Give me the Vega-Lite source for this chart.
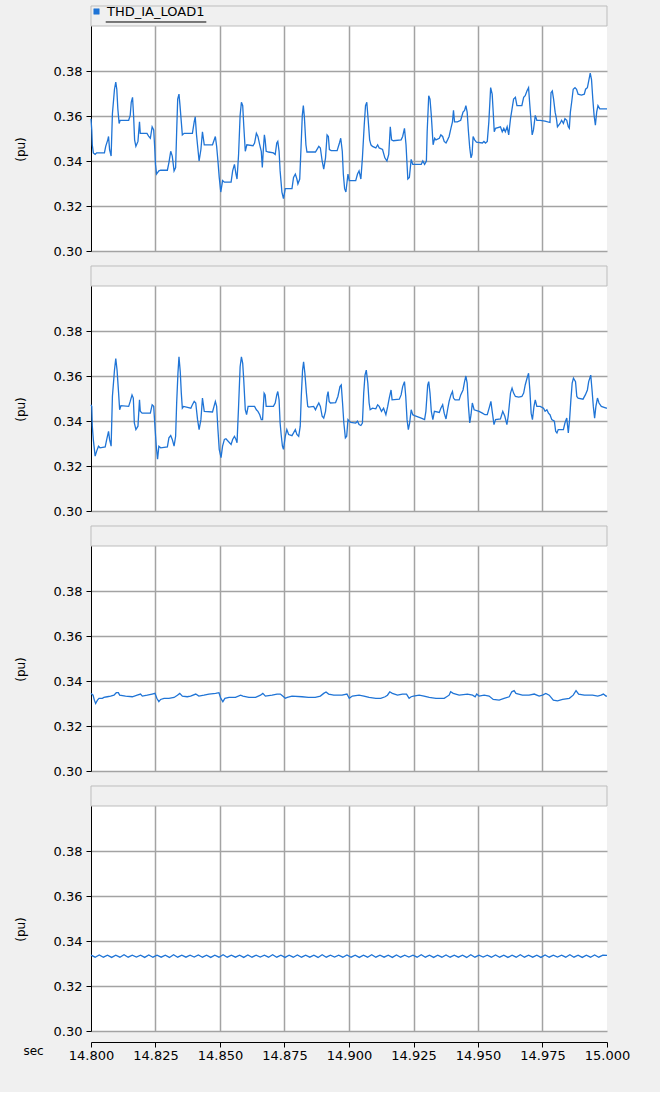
{
"$schema": "https://vega.github.io/schema/vega-lite/v6.json",
"background": "#f0f0f0",
"padding": {"left": 14, "top": 5, "right": 32, "bottom": 30},
"spacing": 15,
"bounds": "flush",
"datasets": {
"p1": [
{"t":14.8000,"v":0.3588},{"t":14.8003,"v":0.3538},{"t":14.8005,"v":0.3472},{"t":14.8009,"v":0.3436},{"t":14.8016,"v":0.3429},{"t":14.8022,"v":0.3436},{"t":14.8052,"v":0.3436},{"t":14.8057,"v":0.3465},{"t":14.8065,"v":0.3494},{"t":14.8068,"v":0.3509},{"t":14.8072,"v":0.3451},{"t":14.8078,"v":0.3422},{"t":14.8083,"v":0.3610},{"t":14.8091,"v":0.3719},{"t":14.8096,"v":0.3751},{"t":14.8100,"v":0.3719},{"t":14.8104,"v":0.3632},{"t":14.8109,"v":0.3567},{"t":14.8113,"v":0.3581},{"t":14.8146,"v":0.3581},{"t":14.8152,"v":0.3603},{"t":14.8156,"v":0.3661},{"t":14.8161,"v":0.3683},{"t":14.8165,"v":0.3603},{"t":14.8169,"v":0.3494},{"t":14.8174,"v":0.3465},{"t":14.8182,"v":0.3487},{"t":14.8188,"v":0.3574},{"t":14.8191,"v":0.3523},{"t":14.8217,"v":0.3523},{"t":14.8224,"v":0.3509},{"t":14.8230,"v":0.3501},{"t":14.8237,"v":0.3552},{"t":14.8243,"v":0.3538},{"t":14.8247,"v":0.3458},{"t":14.8250,"v":0.3385},{"t":14.8254,"v":0.3342},{"t":14.8263,"v":0.3356},{"t":14.8270,"v":0.3359},{"t":14.8296,"v":0.3359},{"t":14.8302,"v":0.3393},{"t":14.8309,"v":0.3443},{"t":14.8315,"v":0.3422},{"t":14.8322,"v":0.3356},{"t":14.8328,"v":0.3371},{"t":14.8332,"v":0.3530},{"t":14.8336,"v":0.3675},{"t":14.8341,"v":0.3697},{"t":14.8345,"v":0.3646},{"t":14.8350,"v":0.3574},{"t":14.8354,"v":0.3516},{"t":14.8361,"v":0.3523},{"t":14.8393,"v":0.3523},{"t":14.8400,"v":0.3574},{"t":14.8404,"v":0.3596},{"t":14.8409,"v":0.3516},{"t":14.8414,"v":0.3458},{"t":14.8419,"v":0.3400},{"t":14.8426,"v":0.3451},{"t":14.8432,"v":0.3530},{"t":14.8439,"v":0.3472},{"t":14.8471,"v":0.3472},{"t":14.8482,"v":0.3509},{"t":14.8487,"v":0.3465},{"t":14.8492,"v":0.3400},{"t":14.8497,"v":0.3327},{"t":14.8503,"v":0.3262},{"t":14.8510,"v":0.3313},{"t":14.8517,"v":0.3306},{"t":14.8543,"v":0.3306},{"t":14.8549,"v":0.3356},{"t":14.8556,"v":0.3385},{"t":14.8562,"v":0.3342},{"t":14.8566,"v":0.3320},{"t":14.8572,"v":0.3429},{"t":14.8578,"v":0.3603},{"t":14.8583,"v":0.3661},{"t":14.8588,"v":0.3646},{"t":14.8592,"v":0.3559},{"t":14.8598,"v":0.3443},{"t":14.8604,"v":0.3472},{"t":14.8628,"v":0.3468},{"t":14.8634,"v":0.3480},{"t":14.8641,"v":0.3523},{"t":14.8647,"v":0.3509},{"t":14.8654,"v":0.3472},{"t":14.8660,"v":0.3443},{"t":14.8664,"v":0.3371},
{"t":14.8668,"v":0.3451},{"t":14.8672,"v":0.3516},{"t":14.8675,"v":0.3494},{"t":14.8679,"v":0.3443},{"t":14.8688,"v":0.3440},{"t":14.8707,"v":0.3436},{"t":14.8714,"v":0.3429},{"t":14.8720,"v":0.3480},{"t":14.8724,"v":0.3487},{"t":14.8729,"v":0.3443},{"t":14.8733,"v":0.3356},{"t":14.8740,"v":0.3262},{"t":14.8746,"v":0.3233},{"t":14.8753,"v":0.3277},{"t":14.8779,"v":0.3277},{"t":14.8785,"v":0.3327},{"t":14.8792,"v":0.3342},{"t":14.8798,"v":0.3320},{"t":14.8802,"v":0.3298},{"t":14.8809,"v":0.3320},{"t":14.8814,"v":0.3458},{"t":14.8819,"v":0.3603},{"t":14.8823,"v":0.3646},{"t":14.8827,"v":0.3596},{"t":14.8833,"v":0.3472},{"t":14.8837,"v":0.3440},{"t":14.8870,"v":0.3440},{"t":14.8883,"v":0.3465},{"t":14.8889,"v":0.3458},{"t":14.8896,"v":0.3400},{"t":14.8902,"v":0.3364},{"t":14.8909,"v":0.3414},{"t":14.8915,"v":0.3516},{"t":14.8920,"v":0.3509},{"t":14.8924,"v":0.3451},{"t":14.8931,"v":0.3446},{"t":14.8954,"v":0.3446},{"t":14.8963,"v":0.3480},{"t":14.8968,"v":0.3501},{"t":14.8974,"v":0.3443},{"t":14.8978,"v":0.3342},{"t":14.8983,"v":0.3277},{"t":14.8988,"v":0.3262},{"t":14.8996,"v":0.3342},{"t":14.9001,"v":0.3313},{"t":14.9026,"v":0.3313},{"t":14.9033,"v":0.3342},{"t":14.9039,"v":0.3356},{"t":14.9046,"v":0.3320},{"t":14.9052,"v":0.3414},{"t":14.9059,"v":0.3559},{"t":14.9064,"v":0.3646},{"t":14.9069,"v":0.3661},{"t":14.9074,"v":0.3588},{"t":14.9080,"v":0.3494},{"t":14.9085,"v":0.3472},{"t":14.9091,"v":0.3465},{"t":14.9104,"v":0.3458},{"t":14.9111,"v":0.3472},{"t":14.9117,"v":0.3458},{"t":14.9130,"v":0.3451},{"t":14.9139,"v":0.3414},{"t":14.9147,"v":0.3400},{"t":14.9154,"v":0.3429},{"t":14.9160,"v":0.3552},{"t":14.9165,"v":0.3494},{"t":14.9172,"v":0.3490},{"t":14.9202,"v":0.3494},{"t":14.9208,"v":0.3509},{"t":14.9215,"v":0.3545},{"t":14.9221,"v":0.3472},{"t":14.9228,"v":0.3320},{"t":14.9234,"v":0.3327},{"t":14.9241,"v":0.3407},{"t":14.9247,"v":0.3385},{"t":14.9280,"v":0.3385},{"t":14.9286,"v":0.3400},{"t":14.9293,"v":0.3385},{"t":14.9300,"v":0.3400},{"t":14.9303,"v":0.3530},{"t":14.9309,"v":0.3690},{"t":14.9314,"v":0.3675},{"t":14.9319,"v":0.3603},{"t":14.9326,"v":0.3472},{"t":14.9332,"v":0.3501},
{"t":14.9337,"v":0.3494},{"t":14.9350,"v":0.3501},{"t":14.9356,"v":0.3516},{"t":14.9363,"v":0.3509},{"t":14.9369,"v":0.3487},{"t":14.9376,"v":0.3480},{"t":14.9382,"v":0.3494},{"t":14.9388,"v":0.3509},{"t":14.9395,"v":0.3545},{"t":14.9401,"v":0.3574},{"t":14.9405,"v":0.3625},{"t":14.9409,"v":0.3574},{"t":14.9420,"v":0.3574},{"t":14.9433,"v":0.3581},{"t":14.9442,"v":0.3617},{"t":14.9448,"v":0.3625},{"t":14.9453,"v":0.3646},{"t":14.9458,"v":0.3617},{"t":14.9463,"v":0.3530},{"t":14.9468,"v":0.3458},{"t":14.9473,"v":0.3414},{"t":14.9477,"v":0.3429},{"t":14.9481,"v":0.3509},{"t":14.9487,"v":0.3494},{"t":14.9494,"v":0.3484},{"t":14.9517,"v":0.3480},{"t":14.9523,"v":0.3487},{"t":14.9529,"v":0.3480},{"t":14.9536,"v":0.3487},{"t":14.9542,"v":0.3574},{"t":14.9549,"v":0.3726},{"t":14.9555,"v":0.3697},{"t":14.9559,"v":0.3617},{"t":14.9563,"v":0.3530},{"t":14.9568,"v":0.3545},{"t":14.9587,"v":0.3552},{"t":14.9594,"v":0.3530},{"t":14.9600,"v":0.3545},{"t":14.9606,"v":0.3530},{"t":14.9613,"v":0.3552},{"t":14.9619,"v":0.3516},{"t":14.9626,"v":0.3588},{"t":14.9632,"v":0.3632},{"t":14.9638,"v":0.3675},{"t":14.9645,"v":0.3683},{"t":14.9651,"v":0.3646},{"t":14.9670,"v":0.3646},{"t":14.9677,"v":0.3683},{"t":14.9683,"v":0.3690},{"t":14.9690,"v":0.3712},{"t":14.9696,"v":0.3726},{"t":14.9700,"v":0.3661},{"t":14.9705,"v":0.3588},{"t":14.9710,"v":0.3516},{"t":14.9715,"v":0.3538},{"t":14.9722,"v":0.3603},{"t":14.9728,"v":0.3581},{"t":14.9741,"v":0.3581},{"t":14.9760,"v":0.3577},{"t":14.9779,"v":0.3571},{"t":14.9783,"v":0.3704},{"t":14.9788,"v":0.3712},{"t":14.9793,"v":0.3675},{"t":14.9799,"v":0.3617},{"t":14.9804,"v":0.3588},{"t":14.9808,"v":0.3552},{"t":14.9818,"v":0.3567},{"t":14.9824,"v":0.3581},{"t":14.9831,"v":0.3567},{"t":14.9837,"v":0.3588},{"t":14.9844,"v":0.3581},{"t":14.9850,"v":0.3552},{"t":14.9854,"v":0.3545},{"t":14.9858,"v":0.3617},{"t":14.9863,"v":0.3661},{"t":14.9869,"v":0.3719},{"t":14.9876,"v":0.3726},{"t":14.9882,"v":0.3719},{"t":14.9888,"v":0.3697},{"t":14.9901,"v":0.3693},{"t":14.9912,"v":0.3697},{"t":14.9917,"v":0.3719},{"t":14.9924,"v":0.3726},{"t":14.9929,"v":0.3755},{"t":14.9935,"v":0.3791},{"t":14.9940,"v":0.3762},{"t":14.9945,"v":0.3675},{"t":14.9950,"v":0.3603},{"t":14.9955,"v":0.3559},{"t":14.9960,"v":0.3617},{"t":14.9965,"v":0.3646},{"t":14.9972,"v":0.3632},{"t":15.0000,"v":0.3632}
],
"p2": [
{"t":14.8000,"v":0.3472},{"t":14.8003,"v":0.3465},{"t":14.8005,"v":0.3377},{"t":14.8009,"v":0.3318},{"t":14.8016,"v":0.3244},{"t":14.8022,"v":0.3266},{"t":14.8029,"v":0.3288},{"t":14.8035,"v":0.3281},{"t":14.8055,"v":0.3285},{"t":14.8061,"v":0.3318},{"t":14.8068,"v":0.3354},{"t":14.8072,"v":0.3318},{"t":14.8078,"v":0.3288},{"t":14.8083,"v":0.3509},{"t":14.8091,"v":0.3626},{"t":14.8096,"v":0.3678},{"t":14.8101,"v":0.3626},{"t":14.8107,"v":0.3524},{"t":14.8111,"v":0.3450},{"t":14.8116,"v":0.3468},{"t":14.8146,"v":0.3465},{"t":14.8152,"v":0.3487},{"t":14.8159,"v":0.3516},{"t":14.8164,"v":0.3502},{"t":14.8168,"v":0.3391},{"t":14.8174,"v":0.3362},{"t":14.8182,"v":0.3377},{"t":14.8188,"v":0.3494},{"t":14.8191,"v":0.3443},{"t":14.8198,"v":0.3435},{"t":14.8230,"v":0.3435},{"t":14.8237,"v":0.3472},{"t":14.8243,"v":0.3465},{"t":14.8247,"v":0.3391},{"t":14.8253,"v":0.3288},{"t":14.8258,"v":0.3230},{"t":14.8263,"v":0.3288},{"t":14.8270,"v":0.3281},{"t":14.8296,"v":0.3285},{"t":14.8302,"v":0.3325},{"t":14.8309,"v":0.3335},{"t":14.8315,"v":0.3318},{"t":14.8322,"v":0.3288},{"t":14.8328,"v":0.3332},{"t":14.8332,"v":0.3479},{"t":14.8337,"v":0.3612},{"t":14.8341,"v":0.3685},{"t":14.8346,"v":0.3619},{"t":14.8350,"v":0.3524},{"t":14.8354,"v":0.3457},{"t":14.8359,"v":0.3465},{"t":14.8387,"v":0.3457},{"t":14.8393,"v":0.3472},{"t":14.8400,"v":0.3487},{"t":14.8406,"v":0.3480},{"t":14.8413,"v":0.3406},{"t":14.8419,"v":0.3362},{"t":14.8426,"v":0.3406},{"t":14.8432,"v":0.3502},{"t":14.8439,"v":0.3443},{"t":14.8471,"v":0.3440},{"t":14.8482,"v":0.3487},{"t":14.8487,"v":0.3465},{"t":14.8492,"v":0.3362},{"t":14.8497,"v":0.3274},{"t":14.8504,"v":0.3237},{"t":14.8510,"v":0.3288},{"t":14.8517,"v":0.3318},{"t":14.8523,"v":0.3321},{"t":14.8543,"v":0.3296},{"t":14.8549,"v":0.3318},{"t":14.8556,"v":0.3332},{"t":14.8562,"v":0.3318},{"t":14.8566,"v":0.3303},{"t":14.8572,"v":0.3465},{"t":14.8578,"v":0.3641},{"t":14.8583,"v":0.3685},{"t":14.8588,"v":0.3656},{"t":14.8592,"v":0.3582},{"t":14.8598,"v":0.3450},{"t":14.8603,"v":0.3428},{"t":14.8609,"v":0.3465},{"t":14.8634,"v":0.3465},{"t":14.8641,"v":0.3450},{"t":14.8647,"v":0.3443},{"t":14.8654,"v":0.3428},{"t":14.8660,"v":0.3406},
{"t":14.8665,"v":0.3406},{"t":14.8671,"v":0.3524},{"t":14.8675,"v":0.3516},{"t":14.8679,"v":0.3465},{"t":14.8707,"v":0.3465},{"t":14.8714,"v":0.3480},{"t":14.8720,"v":0.3516},{"t":14.8724,"v":0.3531},{"t":14.8729,"v":0.3494},{"t":14.8733,"v":0.3391},{"t":14.8737,"v":0.3340},{"t":14.8742,"v":0.3288},{"t":14.8746,"v":0.3274},{"t":14.8753,"v":0.3332},{"t":14.8759,"v":0.3362},{"t":14.8766,"v":0.3340},{"t":14.8779,"v":0.3335},{"t":14.8785,"v":0.3347},{"t":14.8792,"v":0.3362},{"t":14.8798,"v":0.3340},{"t":14.8805,"v":0.3332},{"t":14.8811,"v":0.3377},{"t":14.8815,"v":0.3509},{"t":14.8820,"v":0.3626},{"t":14.8824,"v":0.3663},{"t":14.8829,"v":0.3612},{"t":14.8835,"v":0.3524},{"t":14.8840,"v":0.3465},{"t":14.8844,"v":0.3462},{"t":14.8863,"v":0.3465},{"t":14.8870,"v":0.3450},{"t":14.8876,"v":0.3465},{"t":14.8883,"v":0.3480},{"t":14.8889,"v":0.3465},{"t":14.8896,"v":0.3421},{"t":14.8902,"v":0.3413},{"t":14.8909,"v":0.3443},{"t":14.8915,"v":0.3509},{"t":14.8919,"v":0.3531},{"t":14.8923,"v":0.3487},{"t":14.8928,"v":0.3480},{"t":14.8948,"v":0.3482},{"t":14.8957,"v":0.3509},{"t":14.8965,"v":0.3553},{"t":14.8970,"v":0.3560},{"t":14.8975,"v":0.3480},{"t":14.8980,"v":0.3391},{"t":14.8986,"v":0.3325},{"t":14.8991,"v":0.3332},{"t":14.8996,"v":0.3406},{"t":14.9001,"v":0.3399},{"t":14.9007,"v":0.3394},{"t":14.9026,"v":0.3391},{"t":14.9033,"v":0.3399},{"t":14.9039,"v":0.3384},{"t":14.9046,"v":0.3380},{"t":14.9052,"v":0.3391},{"t":14.9057,"v":0.3524},{"t":14.9062,"v":0.3604},{"t":14.9067,"v":0.3626},{"t":14.9073,"v":0.3568},{"t":14.9078,"v":0.3480},{"t":14.9082,"v":0.3450},{"t":14.9091,"v":0.3457},{"t":14.9104,"v":0.3454},{"t":14.9111,"v":0.3472},{"t":14.9117,"v":0.3465},{"t":14.9126,"v":0.3443},{"t":14.9134,"v":0.3457},{"t":14.9143,"v":0.3428},{"t":14.9150,"v":0.3465},{"t":14.9156,"v":0.3502},{"t":14.9163,"v":0.3538},{"t":14.9167,"v":0.3494},{"t":14.9195,"v":0.3497},{"t":14.9202,"v":0.3516},{"t":14.9208,"v":0.3553},{"t":14.9215,"v":0.3575},{"t":14.9220,"v":0.3509},{"t":14.9225,"v":0.3406},{"t":14.9230,"v":0.3362},{"t":14.9235,"v":0.3391},{"t":14.9241,"v":0.3450},{"t":14.9247,"v":0.3428},{"t":14.9254,"v":0.3424},{"t":14.9280,"v":0.3413},{"t":14.9293,"v":0.3406},{"t":14.9298,"v":0.3443},{"t":14.9305,"v":0.3560},{"t":14.9309,"v":0.3575},{"t":14.9314,"v":0.3524},{"t":14.9319,"v":0.3443},{"t":14.9325,"v":0.3406},{"t":14.9331,"v":0.3443},
{"t":14.9350,"v":0.3438},{"t":14.9356,"v":0.3457},{"t":14.9363,"v":0.3472},{"t":14.9369,"v":0.3435},{"t":14.9376,"v":0.3409},{"t":14.9382,"v":0.3450},{"t":14.9388,"v":0.3487},{"t":14.9395,"v":0.3516},{"t":14.9401,"v":0.3531},{"t":14.9405,"v":0.3502},{"t":14.9411,"v":0.3494},{"t":14.9427,"v":0.3494},{"t":14.9433,"v":0.3516},{"t":14.9442,"v":0.3538},{"t":14.9448,"v":0.3575},{"t":14.9453,"v":0.3600},{"t":14.9458,"v":0.3568},{"t":14.9463,"v":0.3465},{"t":14.9468,"v":0.3391},{"t":14.9473,"v":0.3428},{"t":14.9478,"v":0.3480},{"t":14.9485,"v":0.3450},{"t":14.9504,"v":0.3443},{"t":14.9517,"v":0.3435},{"t":14.9527,"v":0.3428},{"t":14.9536,"v":0.3428},{"t":14.9545,"v":0.3465},{"t":14.9550,"v":0.3487},{"t":14.9555,"v":0.3443},{"t":14.9562,"v":0.3384},{"t":14.9568,"v":0.3406},{"t":14.9587,"v":0.3409},{"t":14.9596,"v":0.3443},{"t":14.9604,"v":0.3421},{"t":14.9612,"v":0.3384},{"t":14.9617,"v":0.3421},{"t":14.9626,"v":0.3524},{"t":14.9632,"v":0.3546},{"t":14.9638,"v":0.3524},{"t":14.9645,"v":0.3509},{"t":14.9658,"v":0.3506},{"t":14.9670,"v":0.3509},{"t":14.9677,"v":0.3524},{"t":14.9683,"v":0.3560},{"t":14.9690,"v":0.3590},{"t":14.9696,"v":0.3612},{"t":14.9701,"v":0.3538},{"t":14.9706,"v":0.3435},{"t":14.9711,"v":0.3406},{"t":14.9717,"v":0.3465},{"t":14.9722,"v":0.3494},{"t":14.9728,"v":0.3465},{"t":14.9741,"v":0.3465},{"t":14.9754,"v":0.3457},{"t":14.9760,"v":0.3443},{"t":14.9767,"v":0.3450},{"t":14.9773,"v":0.3435},{"t":14.9779,"v":0.3428},{"t":14.9786,"v":0.3406},{"t":14.9796,"v":0.3399},{"t":14.9801,"v":0.3354},{"t":14.9806,"v":0.3347},{"t":14.9811,"v":0.3362},{"t":14.9831,"v":0.3362},{"t":14.9837,"v":0.3391},{"t":14.9844,"v":0.3413},{"t":14.9850,"v":0.3347},{"t":14.9855,"v":0.3406},{"t":14.9860,"v":0.3494},{"t":14.9865,"v":0.3568},{"t":14.9870,"v":0.3590},{"t":14.9878,"v":0.3575},{"t":14.9883,"v":0.3509},{"t":14.9888,"v":0.3502},{"t":14.9907,"v":0.3497},{"t":14.9916,"v":0.3516},{"t":14.9924,"v":0.3538},{"t":14.9929,"v":0.3575},{"t":14.9937,"v":0.3604},{"t":14.9942,"v":0.3538},{"t":14.9947,"v":0.3465},{"t":14.9952,"v":0.3413},{"t":14.9957,"v":0.3465},{"t":14.9963,"v":0.3502},{"t":14.9969,"v":0.3480},{"t":14.9978,"v":0.3465},{"t":14.9997,"v":0.3457},{"t":15.0000,"v":0.3457}
],
"p3": [
{"t":14.8000,"v":0.3345},{"t":14.8008,"v":0.3337},{"t":14.8013,"v":0.3315},{"t":14.8018,"v":0.3300},{"t":14.8025,"v":0.3315},{"t":14.8031,"v":0.3323},{"t":14.8044,"v":0.3323},{"t":14.8050,"v":0.3327},{"t":14.8063,"v":0.3330},{"t":14.8076,"v":0.3333},{"t":14.8089,"v":0.3337},{"t":14.8098,"v":0.3348},{"t":14.8106,"v":0.3348},{"t":14.8111,"v":0.3337},{"t":14.8134,"v":0.3333},{"t":14.8160,"v":0.3330},{"t":14.8179,"v":0.3337},{"t":14.8192,"v":0.3342},{"t":14.8199,"v":0.3333},{"t":14.8218,"v":0.3337},{"t":14.8237,"v":0.3342},{"t":14.8248,"v":0.3345},{"t":14.8255,"v":0.3323},{"t":14.8263,"v":0.3308},{"t":14.8270,"v":0.3318},{"t":14.8283,"v":0.3323},{"t":14.8302,"v":0.3323},{"t":14.8322,"v":0.3327},{"t":14.8335,"v":0.3337},{"t":14.8344,"v":0.3345},{"t":14.8354,"v":0.3333},{"t":14.8373,"v":0.3330},{"t":14.8386,"v":0.3333},{"t":14.8406,"v":0.3342},{"t":14.8418,"v":0.3333},{"t":14.8438,"v":0.3337},{"t":14.8457,"v":0.3342},{"t":14.8483,"v":0.3345},{"t":14.8496,"v":0.3348},{"t":14.8503,"v":0.3323},{"t":14.8511,"v":0.3308},{"t":14.8519,"v":0.3323},{"t":14.8535,"v":0.3327},{"t":14.8560,"v":0.3327},{"t":14.8580,"v":0.3337},{"t":14.8589,"v":0.3333},{"t":14.8612,"v":0.3327},{"t":14.8638,"v":0.3327},{"t":14.8657,"v":0.3337},{"t":14.8666,"v":0.3345},{"t":14.8676,"v":0.3333},{"t":14.8702,"v":0.3337},{"t":14.8721,"v":0.3342},{"t":14.8734,"v":0.3342},{"t":14.8743,"v":0.3333},{"t":14.8753,"v":0.3323},{"t":14.8761,"v":0.3327},{"t":14.8779,"v":0.3333},{"t":14.8818,"v":0.3330},{"t":14.8843,"v":0.3327},{"t":14.8869,"v":0.3327},{"t":14.8889,"v":0.3333},{"t":14.8902,"v":0.3345},{"t":14.8911,"v":0.3351},{"t":14.8921,"v":0.3342},{"t":14.8941,"v":0.3337},{"t":14.8973,"v":0.3337},{"t":14.8992,"v":0.3342},{"t":14.9001,"v":0.3323},
{"t":14.9013,"v":0.3333},{"t":14.9039,"v":0.3337},{"t":14.9058,"v":0.3333},{"t":14.9078,"v":0.3327},{"t":14.9104,"v":0.3323},{"t":14.9123,"v":0.3323},{"t":14.9140,"v":0.3330},{"t":14.9149,"v":0.3337},{"t":14.9158,"v":0.3352},{"t":14.9168,"v":0.3345},{"t":14.9188,"v":0.3337},{"t":14.9207,"v":0.3342},{"t":14.9223,"v":0.3342},{"t":14.9233,"v":0.3323},{"t":14.9241,"v":0.3330},{"t":14.9250,"v":0.3333},{"t":14.9272,"v":0.3337},{"t":14.9291,"v":0.3333},{"t":14.9311,"v":0.3327},{"t":14.9337,"v":0.3323},{"t":14.9369,"v":0.3323},{"t":14.9388,"v":0.3337},{"t":14.9394,"v":0.3352},{"t":14.9404,"v":0.3345},{"t":14.9427,"v":0.3337},{"t":14.9459,"v":0.3342},{"t":14.9479,"v":0.3337},{"t":14.9489,"v":0.3330},{"t":14.9495,"v":0.3342},{"t":14.9504,"v":0.3333},{"t":14.9524,"v":0.3337},{"t":14.9543,"v":0.3333},{"t":14.9559,"v":0.3318},{"t":14.9582,"v":0.3315},{"t":14.9601,"v":0.3323},{"t":14.9621,"v":0.3330},{"t":14.9631,"v":0.3352},{"t":14.9640,"v":0.3357},{"t":14.9647,"v":0.3345},{"t":14.9672,"v":0.3337},{"t":14.9698,"v":0.3337},{"t":14.9718,"v":0.3342},{"t":14.9737,"v":0.3333},{"t":14.9750,"v":0.3337},{"t":14.9763,"v":0.3345},{"t":14.9776,"v":0.3337},{"t":14.9792,"v":0.3315},{"t":14.9808,"v":0.3312},{"t":14.9828,"v":0.3318},{"t":14.9854,"v":0.3323},{"t":14.9869,"v":0.3337},{"t":14.9880,"v":0.3357},{"t":14.9890,"v":0.3342},{"t":14.9912,"v":0.3337},{"t":14.9944,"v":0.3337},{"t":14.9964,"v":0.3333},{"t":14.9977,"v":0.3337},{"t":14.9986,"v":0.3342},{"t":14.9996,"v":0.3333},{"t":15.0000,"v":0.3333}
],
"p4": [
{"t":14.8000,"v":0.3337},{"t":14.8016,"v":0.3328},{"t":14.8032,"v":0.3338},{"t":14.8048,"v":0.3328},{"t":14.8064,"v":0.3337},
{"t":14.8080,"v":0.3327},{"t":14.8096,"v":0.3337},{"t":14.8112,"v":0.3328},{"t":14.8128,"v":0.3339},{"t":14.8144,"v":0.3328},
{"t":14.8160,"v":0.3337},{"t":14.8176,"v":0.3329},{"t":14.8192,"v":0.3337},{"t":14.8208,"v":0.3327},{"t":14.8224,"v":0.3338},
{"t":14.8240,"v":0.3328},{"t":14.8256,"v":0.3337},{"t":14.8272,"v":0.3328},{"t":14.8288,"v":0.3337},{"t":14.8304,"v":0.3327},
{"t":14.8320,"v":0.3339},{"t":14.8336,"v":0.3328},{"t":14.8352,"v":0.3337},{"t":14.8368,"v":0.3328},{"t":14.8384,"v":0.3337},
{"t":14.8400,"v":0.3329},{"t":14.8416,"v":0.3338},{"t":14.8432,"v":0.3328},{"t":14.8448,"v":0.3337},{"t":14.8464,"v":0.3327},
{"t":14.8480,"v":0.3337},{"t":14.8496,"v":0.3328},{"t":14.8512,"v":0.3339},{"t":14.8528,"v":0.3328},{"t":14.8544,"v":0.3337},
{"t":14.8560,"v":0.3328},{"t":14.8576,"v":0.3337},{"t":14.8592,"v":0.3327},{"t":14.8608,"v":0.3338},{"t":14.8624,"v":0.3328},
{"t":14.8640,"v":0.3337},{"t":14.8656,"v":0.3329},{"t":14.8672,"v":0.3337},{"t":14.8688,"v":0.3328},{"t":14.8704,"v":0.3339},
{"t":14.8720,"v":0.3328},{"t":14.8736,"v":0.3337},{"t":14.8752,"v":0.3327},{"t":14.8768,"v":0.3337},{"t":14.8784,"v":0.3328},
{"t":14.8800,"v":0.3338},{"t":14.8816,"v":0.3328},{"t":14.8832,"v":0.3337},{"t":14.8848,"v":0.3328},{"t":14.8864,"v":0.3337},
{"t":14.8880,"v":0.3327},{"t":14.8896,"v":0.3339},{"t":14.8912,"v":0.3328},{"t":14.8928,"v":0.3337},{"t":14.8944,"v":0.3329},
{"t":14.8960,"v":0.3337},{"t":14.8976,"v":0.3328},{"t":14.8992,"v":0.3338},{"t":14.9008,"v":0.3328},{"t":14.9024,"v":0.3337},
{"t":14.9040,"v":0.3327},{"t":14.9056,"v":0.3337},{"t":14.9072,"v":0.3328},{"t":14.9088,"v":0.3339},{"t":14.9104,"v":0.3328},
{"t":14.9120,"v":0.3337},{"t":14.9136,"v":0.3328},{"t":14.9152,"v":0.3337},{"t":14.9168,"v":0.3327},{"t":14.9184,"v":0.3338},
{"t":14.9200,"v":0.3328},{"t":14.9216,"v":0.3337},{"t":14.9232,"v":0.3329},{"t":14.9248,"v":0.3337},{"t":14.9264,"v":0.3328},
{"t":14.9280,"v":0.3339},{"t":14.9296,"v":0.3328},{"t":14.9312,"v":0.3337},{"t":14.9328,"v":0.3327},{"t":14.9344,"v":0.3337},
{"t":14.9360,"v":0.3328},{"t":14.9376,"v":0.3338},{"t":14.9392,"v":0.3328},{"t":14.9408,"v":0.3337},{"t":14.9424,"v":0.3328},
{"t":14.9440,"v":0.3337},{"t":14.9456,"v":0.3327},{"t":14.9472,"v":0.3339},{"t":14.9488,"v":0.3328},{"t":14.9504,"v":0.3337},
{"t":14.9520,"v":0.3329},{"t":14.9536,"v":0.3337},{"t":14.9552,"v":0.3328},{"t":14.9568,"v":0.3338},{"t":14.9584,"v":0.3328},
{"t":14.9600,"v":0.3337},{"t":14.9616,"v":0.3327},{"t":14.9632,"v":0.3337},{"t":14.9648,"v":0.3328},{"t":14.9664,"v":0.3339},
{"t":14.9680,"v":0.3328},{"t":14.9696,"v":0.3337},{"t":14.9712,"v":0.3328},{"t":14.9728,"v":0.3337},{"t":14.9744,"v":0.3327},
{"t":14.9760,"v":0.3338},{"t":14.9776,"v":0.3328},{"t":14.9792,"v":0.3337},{"t":14.9808,"v":0.3329},{"t":14.9824,"v":0.3337},
{"t":14.9840,"v":0.3328},{"t":14.9856,"v":0.3339},{"t":14.9872,"v":0.3328},{"t":14.9888,"v":0.3337},{"t":14.9904,"v":0.3327},
{"t":14.9920,"v":0.3337},{"t":14.9936,"v":0.3328},{"t":14.9952,"v":0.3338},{"t":14.9968,"v":0.3328},{"t":14.9984,"v":0.3337},
{"t":15.0000,"v":0.3336}
]
},
"vconcat": [
{
"width": 516, "height": 245,
"layer": [
{"data": {"name": "p1"}, "mark": {"type": "line", "strokeWidth": 1.3},
 "encoding": {
  "x": {"field": "t", "type": "quantitative", "scale": {"domain": [14.8, 15.0], "nice": false, "zero": false},
        "axis": {"values": [14.825, 14.85, 14.875, 14.9, 14.925, 14.95, 14.975], "labels": false, "ticks": false, "domain": false, "title": null, "grid": true}},
  "y": {"field": "v", "type": "quantitative", "scale": {"domain": [0.30, 0.408889], "nice": false, "zero": false},
        "axis": {"values": [0.30, 0.32, 0.34, 0.36, 0.38], "format": ".2f", "title": "(pu)", "titleX": -64, "titleY": 143, "grid": true}},
  "color": {"datum": "THD_IA_LOAD1", "type": "nominal", "scale": {"range": ["#1f74d6"]},
            "legend": {"title": null, "orient": "top-left", "offset": -1, "padding": 0, "symbolType": "square", "symbolSize": 30,
                       "symbolFillColor": "#1f74d6", "symbolStrokeColor": "#1f74d6", "symbolStrokeWidth": 0.5,
                       "labelFontSize": 13, "labelColor": "#000", "labelOffset": 4}}
 }},
{"data": {"values": [{}]}, "mark": {"type": "rect", "fill": "#f0f0f0", "stroke": "#bdbdbd", "strokeWidth": 1},
 "encoding": {"x": {"datum": 14.8}, "x2": {"datum": 15.0}, "y": {"datum": 0.40}, "y2": {"datum": 0.408889}}},
{"data": {"values": [{}]}, "mark": {"type": "rule", "color": "#000", "strokeWidth": 1},
 "encoding": {"x": {"datum": 14.8057}, "x2": {"datum": 14.8447}, "y": {"datum": 0.40178}}}
]
},
{
"width": 516, "height": 245,
"layer": [
{"data": {"name": "p2"}, "mark": {"type": "line", "strokeWidth": 1.3, "color": "#1f74d6"},
 "encoding": {
  "x": {"field": "t", "type": "quantitative", "scale": {"domain": [14.8, 15.0], "nice": false, "zero": false},
        "axis": {"values": [14.825, 14.85, 14.875, 14.9, 14.925, 14.95, 14.975], "labels": false, "ticks": false, "domain": false, "title": null, "grid": true}},
  "y": {"field": "v", "type": "quantitative", "scale": {"domain": [0.30, 0.408889], "nice": false, "zero": false},
        "axis": {"values": [0.30, 0.32, 0.34, 0.36, 0.38], "format": ".2f", "title": "(pu)", "titleX": -64, "titleY": 143, "grid": true}}
 }},
{"data": {"values": [{}]}, "mark": {"type": "rect", "fill": "#f0f0f0", "stroke": "#bdbdbd", "strokeWidth": 1},
 "encoding": {"x": {"datum": 14.8}, "x2": {"datum": 15.0}, "y": {"datum": 0.40}, "y2": {"datum": 0.408889}}}
]
},
{
"width": 516, "height": 245,
"layer": [
{"data": {"name": "p3"}, "mark": {"type": "line", "strokeWidth": 1.3, "color": "#1f74d6"},
 "encoding": {
  "x": {"field": "t", "type": "quantitative", "scale": {"domain": [14.8, 15.0], "nice": false, "zero": false},
        "axis": {"values": [14.825, 14.85, 14.875, 14.9, 14.925, 14.95, 14.975], "labels": false, "ticks": false, "domain": false, "title": null, "grid": true}},
  "y": {"field": "v", "type": "quantitative", "scale": {"domain": [0.30, 0.408889], "nice": false, "zero": false},
        "axis": {"values": [0.30, 0.32, 0.34, 0.36, 0.38], "format": ".2f", "title": "(pu)", "titleX": -64, "titleY": 143, "grid": true}}
 }},
{"data": {"values": [{}]}, "mark": {"type": "rect", "fill": "#f0f0f0", "stroke": "#bdbdbd", "strokeWidth": 1},
 "encoding": {"x": {"datum": 14.8}, "x2": {"datum": 15.0}, "y": {"datum": 0.40}, "y2": {"datum": 0.408889}}}
]
},
{
"width": 516, "height": 245,
"layer": [
{"data": {"name": "p4"}, "mark": {"type": "line", "strokeWidth": 1.3, "color": "#1f74d6"},
 "encoding": {
  "x": {"field": "t", "type": "quantitative", "scale": {"domain": [14.8, 15.0], "nice": false, "zero": false},
        "axis": {"values": [14.8, 14.825, 14.85, 14.875, 14.9, 14.925, 14.95, 14.975, 15.0], "format": ".3f", "grid": true,
                 "gridColor": {"condition": {"test": "datum.value < 14.801 || datum.value > 14.999", "value": "transparent"}, "value": "#a3a3a3"},
                 "labelOverlap": false, "labelFlush": false,
                 "offset": 11, "tickSize": 5, "labelPadding": 2, "labelFontSize": 13,
                 "title": "sec", "titleX": -58, "titleY": 8, "titleBaseline": "middle", "titleAlign": "center", "titleFontSize": 12}},
  "y": {"field": "v", "type": "quantitative", "scale": {"domain": [0.30, 0.408889], "nice": false, "zero": false},
        "axis": {"values": [0.30, 0.32, 0.34, 0.36, 0.38], "format": ".2f", "title": "(pu)", "titleX": -64, "titleY": 143, "grid": true}}
 }},
{"data": {"values": [{}]}, "mark": {"type": "rect", "fill": "#f0f0f0", "stroke": "#bdbdbd", "strokeWidth": 1},
 "encoding": {"x": {"datum": 14.8}, "x2": {"datum": 15.0}, "y": {"datum": 0.40}, "y2": {"datum": 0.408889}}}
]
}
],
"config": {
 "font": "DejaVu Sans",
 "view": {"fill": "white", "stroke": null},
 "axis": {"labelFont": "DejaVu Sans", "labelFontSize": 13, "labelColor": "#000", "gridColor": "#a3a3a3", "gridWidth": 1.5, "gridOpacity": 1,
          "domainColor": "#000", "domainWidth": 1, "tickColor": "#000", "tickSize": 5, "labelPadding": 4,
          "titleFont": "DejaVu Sans", "titleFontSize": 12, "titleFontWeight": "normal", "titleColor": "#000"},
 "legend": {"labelFont": "DejaVu Sans"}
}
}
